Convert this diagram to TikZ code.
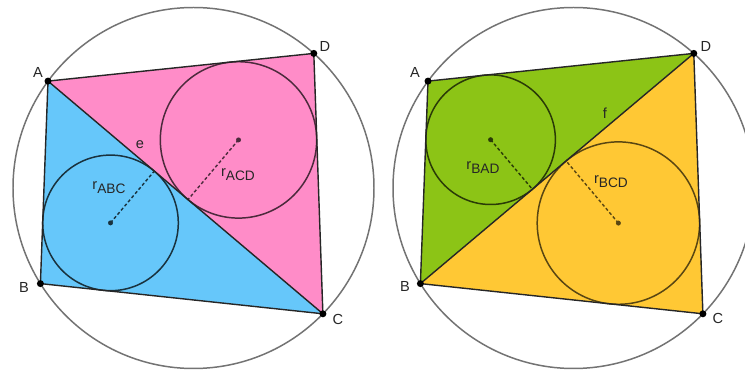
\documentclass[tikz,border=0pt]{standalone}
\usepackage{fontspec}
\setmainfont{Liberation Sans}
\usepackage{xcolor}
\usetikzlibrary{positioning}

\definecolor{abcblue}{RGB}{102,199,250}
\definecolor{acdpink}{RGB}{255,140,200}
\definecolor{badgreen}{RGB}{140,196,22}
\definecolor{bcdyellow}{RGB}{255,200,52}

\tikzset{
  lbl/.style={font=\fontsize{8.3}{9}\selectfont, text=black!85, inner sep=0pt},
  ptdot/.style={fill=black, draw=none},
  quad/.style={draw=black!85, line width=0.8pt, line join=round},
  umkreis/.style={draw=black!55, line width=0.85pt},
  inkreis/.style={line width=0.85pt},
  radius line/.style={dash pattern=on 1.8pt off 1.3pt, line width=0.8pt}
}

\newcommand{\rlabel}[1]{r\raisebox{-2.2pt}{\fontsize{7.8}{8}\selectfont #1}}

\begin{document}
\begin{tikzpicture}[x=0.02cm, y=-0.02cm]
  \clip (0,0) rectangle (745,371);

  % left figure: diagonal e
  \coordinate (O) at (193.5,188);
  \coordinate (A) at (48,81.1);
  \coordinate (B) at (40.4,283.6);
  \coordinate (C) at (322.9,313.8);
  \coordinate (D) at (313.8,53.4);
  \coordinate (Iabc) at (110.5,222.9);
  \coordinate (Iacd) at (238.5,139.9);
  \coordinate (Tabc) at (154.3,171.1);
  \coordinate (Tacd) at (188.0,199.6);

  \fill[abcblue] (A) -- (B) -- (C) -- cycle;
  \fill[acdpink] (A) -- (C) -- (D) -- cycle;
  \draw[umkreis] (O) circle (180.5);
  \draw[inkreis, draw=abcblue!25!black] (Iabc) circle (67.8);
  \draw[inkreis, draw=acdpink!30!black] (Iacd) circle (78.2);
  \draw[radius line, abcblue!25!black] (Iabc) -- (Tabc);
  \draw[radius line, acdpink!30!black] (Iacd) -- (Tacd);
  \draw[quad] (A) -- (B) -- (C) -- (D) -- cycle;
  \draw[quad] (A) -- (C);
  \foreach \p in {A,B,C,D} \fill[ptdot] (\p) circle (3.5);
  \fill[abcblue!25!black] (Iabc) circle (2.5);
  \fill[acdpink!30!black] (Iacd) circle (2.5);

  \node[lbl] (lA) at (38,72) {A};
  \node[lbl] (lB) at (24,287) {B};
  \node[lbl] (lC) at (338,319) {C};
  \node[lbl] (lD) at (325,46) {D};
  \node[lbl] (le) at (140,145) {e};
  \node[lbl] (rabc) at (109,188) {\rlabel{ABC}};
  \node[lbl] (racd) at (238,175) {\rlabel{ACD}};

  % right figure: diagonal f
  \coordinate (O2) at (573.5,188);
  \coordinate (A2) at (428,81.1);
  \coordinate (B2) at (420.4,283.6);
  \coordinate (C2) at (702.9,313.8);
  \coordinate (D2) at (693.8,53.4);
  \coordinate (Ibad) at (490.6,139.7);
  \coordinate (Ibcd) at (618.4,223.1);
  \coordinate (Tbad) at (532.4,189.3);
  \coordinate (Tbcd) at (566.1,160.9);

  \fill[badgreen] (A2) -- (B2) -- (D2) -- cycle;
  \fill[bcdyellow] (B2) -- (C2) -- (D2) -- cycle;
  \draw[umkreis] (O2) circle (180.5);
  \draw[inkreis, draw=badgreen!30!black] (Ibad) circle (64.8);
  \draw[inkreis, draw=bcdyellow!35!black] (Ibcd) circle (81.2);
  \draw[radius line, badgreen!30!black] (Ibad) -- (Tbad);
  \draw[radius line, bcdyellow!35!black] (Ibcd) -- (Tbcd);
  \draw[quad] (A2) -- (B2) -- (C2) -- (D2) -- cycle;
  \draw[quad] (B2) -- (D2);
  \foreach \p in {A2,B2,C2,D2} \fill[ptdot] (\p) circle (3.5);
  \fill[badgreen!30!black] (Ibad) circle (2.5);
  \fill[bcdyellow!35!black] (Ibcd) circle (2.5);

  \node[lbl] (lA2) at (415,72) {A};
  \node[lbl] (lB2) at (405,286) {B};
  \node[lbl] (lC2) at (718,318) {C};
  \node[lbl] (lD2) at (706,46) {D};
  \node[lbl] (lf) at (605,113) {f};
  \node[lbl] (rbad) at (483,168) {\rlabel{BAD}};
  \node[lbl] (rbcd) at (611,182) {\rlabel{BCD}};
\end{tikzpicture}
\end{document}
